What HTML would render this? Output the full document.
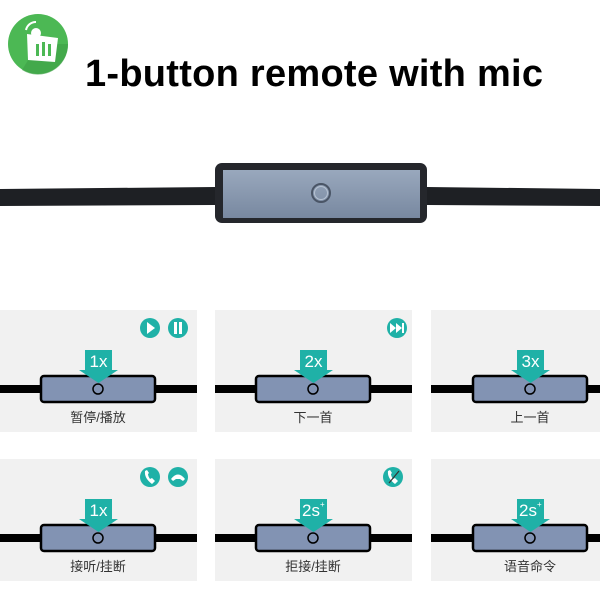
<!DOCTYPE html>
<html><head><meta charset="utf-8"><style>
body{margin:0;width:600px;height:600px;background:#fff;overflow:hidden}
svg{display:block}
text{font-family:"Liberation Sans","Noto Sans CJK SC",sans-serif}
</style></head><body>
<svg width="600" height="600" viewBox="0 0 600 600" xmlns="http://www.w3.org/2000/svg">
<defs>
<linearGradient id="rg" x1="0" y1="0" x2="0" y2="1"><stop offset="0" stop-color="#99a8bd"/><stop offset="1" stop-color="#7888a0"/></linearGradient>
<g id="p">
<rect x="0" y="0" width="197" height="122" fill="#f1f1f1"/>
<rect x="0" y="75" width="197" height="8" fill="#000"/>
<rect x="41" y="66" width="114" height="26" rx="3" fill="#8293b3" stroke="#000" stroke-width="2.5"/>
<circle cx="98" cy="79" r="5" fill="none" stroke="#000" stroke-width="1.5"/>
<path d="M85 40 H112 V60 H118 L98.5 73 L79 60 H85 Z" fill="#1fb1a7"/>
</g>
<g id="q">
<rect x="0" y="0" width="169" height="122" fill="#f1f1f1"/>
<rect x="0" y="75" width="169" height="8" fill="#000"/>
<rect x="42" y="66" width="114" height="26" rx="3" fill="#8293b3" stroke="#000" stroke-width="2.5"/>
<circle cx="99" cy="79" r="5" fill="none" stroke="#000" stroke-width="1.5"/>
<path d="M86 40 H113 V60 H119 L99.5 73 L80 60 H86 Z" fill="#1fb1a7"/>
</g>
</defs>
<!-- logo -->
<circle cx="38" cy="44" r="30" fill="#4cb854"/>
<path d="M38 44 L68 44 A30 30 0 0 1 22 70 Z" fill="#3e9f46" opacity="0.6"/>
<path d="M27 34 L58 38 L55 62 L28 60 Z" fill="#fff"/>
<rect x="36" y="44" width="3" height="12" fill="#4cb854"/><rect x="42" y="42" width="3" height="14" fill="#4cb854"/><rect x="48" y="44" width="3" height="12" fill="#4cb854"/>
<circle cx="36" cy="33" r="5" fill="#fff"/>
<path d="M26 30 A10 10 0 0 1 36 22" stroke="#fff" stroke-width="2" fill="none"/>
<text x="314" y="86" font-size="38" font-weight="bold" text-anchor="middle" fill="#000" textLength="458">1-button remote with mic</text>
<!-- main remote -->
<path d="M0 189 L215 187 L215 205 L0 206 Z" fill="#1e2024"/>
<path d="M427 187 L600 189 L600 206 L427 205 Z" fill="#1e2024"/>
<rect x="215" y="163" width="212" height="60" rx="7" fill="#25272c"/>
<rect x="223" y="170" width="197" height="48" fill="url(#rg)"/>
<circle cx="321" cy="193" r="9" fill="none" stroke="#4a5566" stroke-width="2"/>
<circle cx="321" cy="193" r="6.5" fill="none" stroke="#b6c2d2" stroke-width="1"/>
<!-- panels -->
<use href="#p" x="0" y="310"/><use href="#p" x="215" y="310"/><use href="#q" x="431" y="310"/>
<use href="#p" x="0" y="459"/><use href="#p" x="215" y="459"/><use href="#q" x="431" y="459"/>
<g fill="#fff" font-size="17" text-anchor="middle">
<text x="98.5" y="367">1x</text><text x="313.5" y="367">2x</text><text x="530.5" y="367">3x</text>
<text x="98.5" y="516">1x</text><text x="311" y="516">2s</text><text x="528" y="516">2s</text>
</g>
<g fill="#fff" font-size="8"><text x="320" y="507">+</text><text x="537" y="507">+</text></g>
<g fill="#333" font-size="13" text-anchor="middle">
<text x="98" y="422">暂停/播放</text><text x="313" y="422">下一首</text><text x="530" y="422">上一首</text>
<text x="98" y="571">接听/挂断</text><text x="313" y="571">拒接/挂断</text><text x="530" y="571">语音命令</text>
</g>
<!-- icons -->
<g fill="#1fb1a7">
<circle cx="150" cy="328" r="10"/><circle cx="178" cy="328" r="10"/>
<circle cx="397" cy="328" r="10"/>
<circle cx="150" cy="477" r="10"/><circle cx="178" cy="477" r="10"/>
<circle cx="393" cy="477" r="10"/>
</g>
<g fill="#fff">
<path d="M147 322 L155 328 L147 334 Z"/>
<rect x="174" y="322" width="3" height="12"/><rect x="179" y="322" width="3" height="12"/>
<path d="M390 323 L396 328 L390 333 Z M396 323 L402 328 L396 333 Z"/><rect x="402" y="323" width="2" height="10"/>
<path d="M145 471 Q144 478 152 484 L155 481 L152 478 L150 479 Q148 476 148 474 L149 473 L147 470 Z"/>
<path d="M171 479 Q178 470 185 479 L183 481 L180 479 L176 479 L173 481 Z"/>
<path d="M388 471 Q387 478 395 484 L398 481 L395 478 L393 479 Q391 476 391 474 L392 473 L390 470 Z"/>
</g>
<line x1="389" y1="483" x2="399" y2="471" stroke="#333" stroke-width="1.2"/>
</svg>
</body></html>
